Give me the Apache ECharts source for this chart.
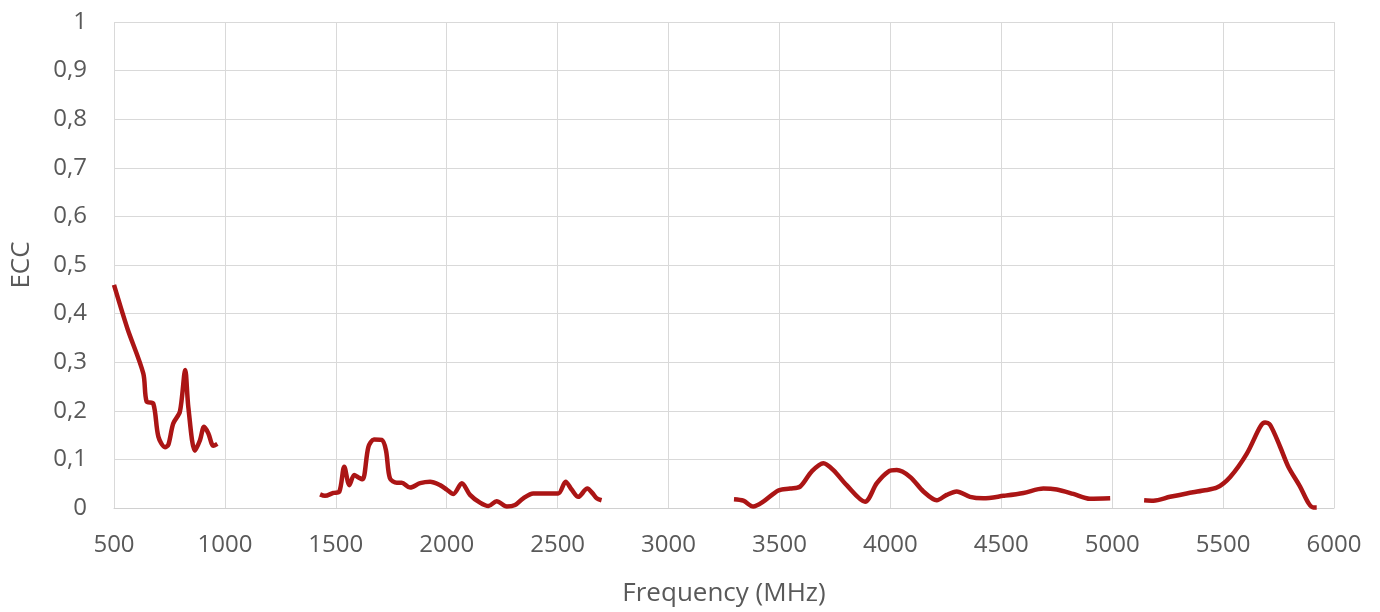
<!DOCTYPE html>
<html>
<head>
<meta charset="utf-8">
<script src="https://cdn.jsdelivr.net/npm/echarts@6/dist/echarts.min.js"></script>
<style>html,body{margin:0;padding:0;background:#fff}#c{width:1380px;height:612px}</style>
</head>
<body>
<div id="c"></div>
<script>
const seg1Freq = [500, 560, 632, 647, 677, 700, 730, 745, 767, 797, 821, 835, 865, 888, 906, 925, 948, 966];
const seg1Ecc  = [0.459, 0.37, 0.277, 0.219, 0.215, 0.147, 0.125, 0.130, 0.174, 0.198, 0.284, 0.208, 0.118, 0.140, 0.167, 0.154, 0.128, 0.132];

const seg2Freq = [1429, 1451, 1489, 1516, 1538, 1561, 1583, 1602, 1621, 1647, 1672, 1707, 1726, 1744, 1775, 1797, 1835, 1880, 1925, 1970, 2000, 2030, 2068, 2105, 2150, 2188, 2225, 2271, 2308, 2345, 2390, 2451, 2503, 2536, 2563, 2593, 2634, 2658, 2676, 2698];
const seg2Ecc  = [0.028, 0.025, 0.031, 0.034, 0.085, 0.047, 0.068, 0.063, 0.059, 0.126, 0.141, 0.140, 0.119, 0.061, 0.052, 0.052, 0.042, 0.051, 0.054, 0.047, 0.038, 0.029, 0.051, 0.027, 0.011, 0.004, 0.014, 0.003, 0.006, 0.020, 0.030, 0.030, 0.030, 0.054, 0.038, 0.023, 0.040, 0.030, 0.020, 0.016];

const seg3Freq = [3295, 3337, 3382, 3427, 3495, 3548, 3593, 3645, 3698, 3743, 3803, 3886, 3939, 3991, 4029, 4089, 4149, 4209, 4254, 4299, 4359, 4419, 4510, 4600, 4690, 4750, 4825, 4900, 4991];
const seg3Ecc  = [0.018, 0.015, 0.003, 0.013, 0.036, 0.040, 0.044, 0.075, 0.092, 0.078, 0.047, 0.013, 0.051, 0.075, 0.078, 0.064, 0.034, 0.016, 0.027, 0.034, 0.023, 0.020, 0.025, 0.031, 0.040, 0.038, 0.029, 0.019, 0.020];

const seg4Freq = [5144, 5186, 5261, 5336, 5411, 5472, 5532, 5607, 5667, 5689, 5712, 5757, 5794, 5847, 5885, 5907, 5922];
const seg4Ecc  = [0.016, 0.015, 0.023, 0.030, 0.036, 0.042, 0.064, 0.112, 0.167, 0.176, 0.171, 0.126, 0.085, 0.044, 0.010, 0.001, 0.001];

const xTicks = [500, 1000, 1500, 2000, 2500, 3000, 3500, 4000, 4500, 5000, 5500, 6000];
const yTicks = [0, 0.1, 0.2, 0.3, 0.4, 0.5, 0.6, 0.7, 0.8, 0.9, 1];

const segments = [[seg1Freq, seg1Ecc], [seg2Freq, seg2Ecc], [seg3Freq, seg3Ecc], [seg4Freq, seg4Ecc]];
const lineColor = '#ab1515';
const txt = '#595959';
const font = 'Open Sans';

const chart = echarts.init(document.getElementById('c'), null, {renderer: 'canvas'});
chart.setOption({
  animation: false,
  backgroundColor: '#fff',
  grid: {left: 114, right: 46, top: 22, bottom: 104, containLabel: false},
  xAxis: {
    type: 'value', min: 500, max: 6000, interval: 500,
    name: 'Frequency (MHz)', nameLocation: 'middle', nameGap: 73,
    nameTextStyle: {color: txt, fontSize: 26, fontFamily: font},
    axisLine: {show: true, lineStyle: {color: '#d0d0d0', width: 1}},
    axisTick: {show: false},
    axisLabel: {color: txt, fontSize: 24, fontFamily: font, margin: 25,
      formatter: v => xTicks.includes(v) ? String(v) : ''},
    splitLine: {show: true, lineStyle: {color: '#d9d9d9', width: 1}}
  },
  yAxis: {
    type: 'value', min: 0, max: 1, interval: 0.1,
    name: 'ECC', nameLocation: 'middle', nameGap: 79,
    nameTextStyle: {color: txt, fontSize: 26, fontFamily: font},
    axisLine: {show: false},
    axisTick: {show: false},
    axisLabel: {color: txt, fontSize: 24, fontFamily: font, margin: 27,
      formatter: v => {
        const t = yTicks.find(k => Math.abs(k - v) < 1e-9);
        return t === undefined ? '' : String(Math.round(t * 10) / 10).replace('.', ',');
      }},
    splitLine: {show: true, lineStyle: {color: '#d9d9d9', width: 1}}
  },
  series: segments.map(([f, e]) => ({
    type: 'line', smooth: 0.3, symbol: 'none',
    lineStyle: {color: lineColor, width: 4.5},
    data: f.map((x, i) => [x, e[i]])
  }))
});
</script>
</body>
</html>
